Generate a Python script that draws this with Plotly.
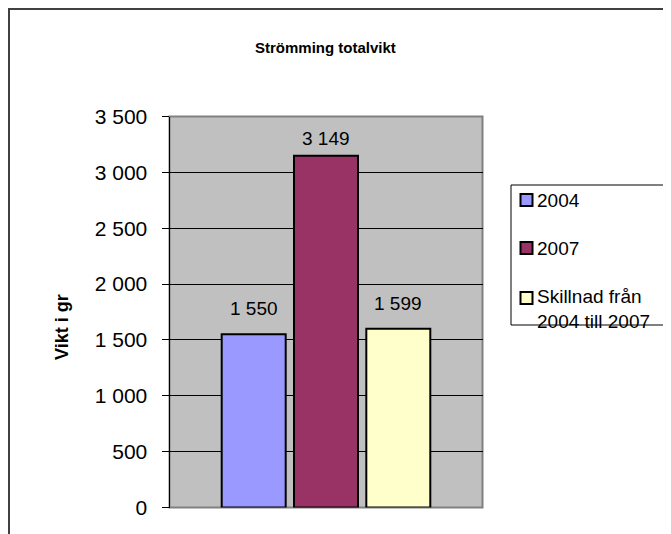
import plotly.graph_objects as go

# ---- data ----
series_names = ["2004", "2007", "Skillnad från 2004 till 2007"]
legend_labels = ["2004", "2007", "Skillnad från<br>2004 till 2007"]
values = [1550, 3149, 1599]
colors = ["#9999FF", "#993366", "#FFFFCC"]
tick_values = [0, 500, 1000, 1500, 2000, 2500, 3000, 3500]
tick_labels = ["0", "500", "1 000", "1 500", "2 000", "2 500", "3 000", "3 500"]
title_text = "Strömming totalvikt"
y_title = "Vikt i gr"

# ---- layout helpers (window pixel -> paper); page body has an 8px margin ----
OFF = 8
W, H = 671 - OFF, 534 - OFF
def px(x):
    return (x - OFF) / W
def py(y):
    return 1 - (y - OFF) / H

FONT = "Arial, Liberation Sans, sans-serif"
bargap = 0.307
bargroupgap = 0.115
label_shift = [13, 5, 13]

fig = go.Figure()
for name, v, c in zip(series_names, values, colors):
    fig.add_trace(go.Bar(
        x=[0], y=[v], name=name,
        marker=dict(color=c, line=dict(color="black", width=2)),
        showlegend=False, hoverinfo="name+y",
    ))

n = len(values)
slot = (1 - bargap) / n
annotations = []
for i, v in enumerate(values):
    xc = -0.5 * (1 - bargap) + slot * (i + 0.5)
    annotations.append(dict(
        x=xc, y=v, xref="x", yref="y", text=f"{v:,}".replace(",", " "),
        showarrow=False, yanchor="bottom", yshift=label_shift[i],
        font=dict(family=FONT, size=19, color="black"),
    ))

# title
annotations.append(dict(
    x=px(325), y=py(48), xref="paper", yref="paper", text=f"<b>{title_text}</b>",
    showarrow=False, xanchor="center", yanchor="middle",
    font=dict(family=FONT, size=15, color="black"),
))
# y-axis title
annotations.append(dict(
    x=px(62), y=py(327), xref="paper", yref="paper", text=f"<b>{y_title}</b>",
    showarrow=False, xanchor="center", yanchor="middle", textangle=-90,
    font=dict(family=FONT, size=18, color="black"),
))

shapes = []
# outer chart border lines
shapes.append(dict(type="line", xref="paper", yref="paper", x0=px(9), x1=px(9), y0=py(8.5), y1=py(545),
                   line=dict(color="#404040", width=2)))
shapes.append(dict(type="line", xref="paper", yref="paper", x0=px(8), x1=px(690), y0=py(9), y1=py(9),
                   line=dict(color="#404040", width=2)))
# plot area border (grey)
shapes.append(dict(type="rect", xref="paper", yref="paper", x0=px(169.5), x1=px(482.5), y0=py(507.5), y1=py(116.5),
                   line=dict(color="#808080", width=2), layer="below"))

# legend box
shapes.append(dict(type="rect", xref="paper", yref="paper", x0=px(511), x1=px(700), y0=py(325), y1=py(185),
                   line=dict(color="#000000", width=1), fillcolor="white"))
row_y = [200, 248, 298]
row_text_y = [200, 248, 309]
for i, (lab, c) in enumerate(zip(legend_labels, colors)):
    shapes.append(dict(type="rect", xref="paper", yref="paper",
                       x0=px(520.5), x1=px(532.5), y0=py(row_y[i] + 6), y1=py(row_y[i] - 6),
                       line=dict(color="black", width=2), fillcolor=c))
    annotations.append(dict(
        x=px(535), y=py(row_text_y[i]), xref="paper", yref="paper", text=lab,
        showarrow=False, xanchor="left", yanchor="middle", align="left",
        font=dict(family=FONT, size=19, color="black"),
    ))

fig.update_layout(
    width=W, height=H,
    margin=dict(l=0, r=0, t=0, b=0),
    paper_bgcolor="white", plot_bgcolor="#C0C0C0",
    template="none",
    barmode="group", bargap=bargap, bargroupgap=bargroupgap,
    showlegend=False,
    font=dict(family=FONT, color="black"),
    xaxis=dict(domain=[px(169.5), px(482.5)], range=[-0.5, 0.5], showticklabels=False,
               showgrid=False, zeroline=False, ticks="", showline=False, automargin=False,
               fixedrange=True),
    yaxis=dict(domain=[py(507.5), py(116.5)], range=[0, 3500], tickvals=tick_values, ticktext=tick_labels,
               showgrid=True, gridcolor="black", gridwidth=1, zeroline=False,
               showline=True, linecolor="black", linewidth=1,
               ticks="outside", ticklen=7, tickcolor="black", tickwidth=1,
               ticklabelstandoff=10,
               tickfont=dict(family=FONT, size=21, color="black"), automargin=False,
               fixedrange=True),
    shapes=shapes,
    annotations=annotations,
)

fig.write_html("out.html")
